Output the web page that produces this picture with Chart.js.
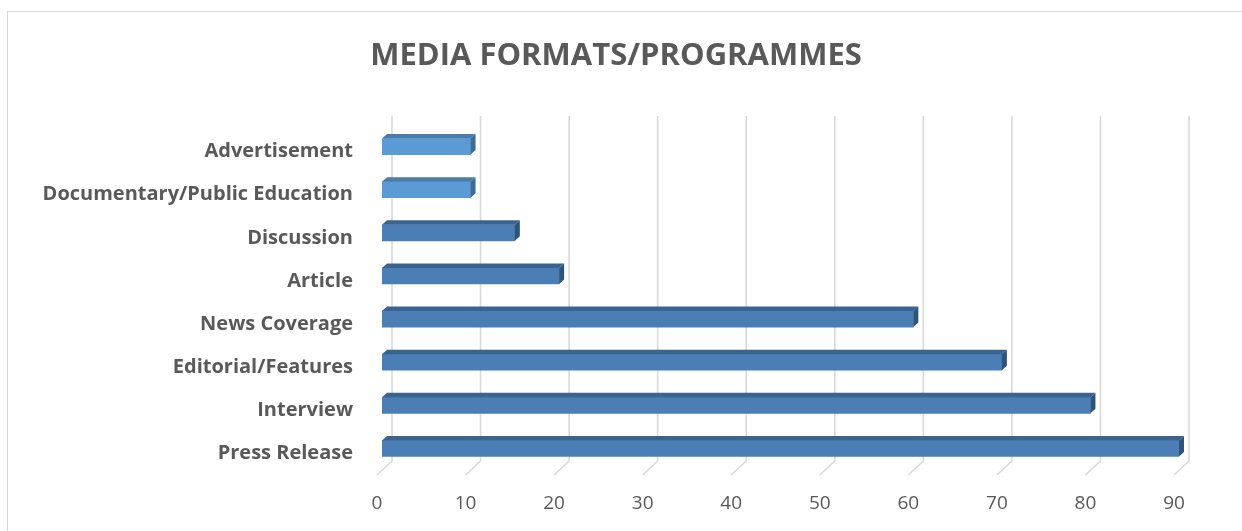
<!DOCTYPE html>
<html>
<head>
<meta charset="utf-8">
<title>Media formats / programmes</title>
<script src="https://cdn.jsdelivr.net/npm/chart.js@4.4.1/dist/chart.umd.min.js"></script>
<style>
  html, body { margin: 0; padding: 0; background: #fff; overflow: hidden; }
  #frame {
    position: absolute; left: 7px; top: 11px; width: 1300px; height: 600px;
    border: 1px solid #d9d9d9; box-sizing: border-box;
  }
  #wrap { position: absolute; left: 0; top: 0; width: 1242px; height: 531px; }
</style>
</head>
<body>
<div id="frame"></div>
<div id="wrap"><canvas id="bar"></canvas></div>
<script>
const TITLE = 'MEDIA FORMATS/PROGRAMMES';

// categories, top to bottom
const formats = [
  'Advertisement',
  'Documentary/Public Education',
  'Discussion',
  'Article',
  'News Coverage',
  'Editorial/Features',
  'Interview',
  'Press Release'
];
const counts = [10, 10, 15, 20, 60, 70, 80, 90];
const xTicks = [0, 10, 20, 30, 40, 50, 60, 70, 80, 90];

// two lighter bars at the top, the rest in the darker blue
const frontColors = ['#5b9bd5', '#5b9bd5', '#4a7eb4', '#4a7eb4', '#4a7eb4', '#4a7eb4', '#4a7eb4', '#4a7eb4'];
const topColors   = ['#4a7bab', '#4a7bab', '#3a6490', '#3a6490', '#3a6490', '#3a6490', '#3a6490', '#3a6490'];
const sideColors  = ['#3e6a96', '#3e6a96', '#2f5479', '#2f5479', '#2f5479', '#2f5479', '#2f5479', '#2f5479'];

const FLOOR_DX = 15, FLOOR_DY = 14;   // depth of the floor / back wall
const BAR_DX = 5, BAR_DY = 5;         // bars sit a third of the way in
const BAR_DEPTH_X = 5, BAR_DEPTH_Y = 4.5;

const textGrey = '#595959';

// back wall gridlines plus the slanted floor lines, drawn behind the bars
const wallPlugin = {
  id: 'wall',
  beforeDatasetsDraw(chart) {
    const { ctx, chartArea } = chart;
    const x = chart.scales.x;
    ctx.save();
    ctx.strokeStyle = '#d9d9d9';
    ctx.lineWidth = 1.6;
    xTicks.forEach(v => {
      const fx = x.getPixelForValue(v);
      const bx = fx + FLOOR_DX;
      ctx.beginPath();
      ctx.moveTo(bx, chartArea.top - FLOOR_DY);
      ctx.lineTo(bx, chartArea.bottom - FLOOR_DY);
      ctx.lineTo(fx, chartArea.bottom);
      ctx.stroke();
    });
    ctx.restore();
  }
};

// shifts the bars back a little and adds top and end faces
const depthPlugin = {
  id: 'depth',
  beforeDatasetDraw(chart) {
    chart.ctx.save();
    chart.ctx.translate(BAR_DX, -BAR_DY);
  },
  afterDatasetDraw(chart, args) {
    const ctx = chart.ctx;
    args.meta.data.forEach((bar, i) => {
      const p = bar.getProps(['x', 'y', 'base', 'height'], true);
      const top = p.y - p.height / 2;
      const bottom = p.y + p.height / 2;
      ctx.fillStyle = topColors[i];
      ctx.beginPath();
      ctx.moveTo(p.base, top);
      ctx.lineTo(p.base + BAR_DEPTH_X, top - BAR_DEPTH_Y);
      ctx.lineTo(p.x + BAR_DEPTH_X, top - BAR_DEPTH_Y);
      ctx.lineTo(p.x, top);
      ctx.closePath();
      ctx.fill();
      ctx.fillStyle = sideColors[i];
      ctx.beginPath();
      ctx.moveTo(p.x, top);
      ctx.lineTo(p.x + BAR_DEPTH_X, top - BAR_DEPTH_Y);
      ctx.lineTo(p.x + BAR_DEPTH_X, bottom - BAR_DEPTH_Y);
      ctx.lineTo(p.x, bottom);
      ctx.closePath();
      ctx.fill();
    });
    ctx.restore();
  }
};

const titlePlugin = {
  id: 'headline',
  afterDraw(chart) {
    const ctx = chart.ctx;
    ctx.save();
    ctx.font = 'bold 31px "Open Sans"';
    ctx.fillStyle = textGrey;
    ctx.textAlign = 'center';
    ctx.textBaseline = 'middle';
    ctx.fillText(TITLE, 616, 56);
    ctx.restore();
  }
};

new Chart(document.getElementById('bar'), {
  type: 'bar',
  data: {
    labels: formats,
    datasets: [{
      label: 'Media formats',
      data: counts,
      backgroundColor: frontColors,
      borderWidth: 0,
      barThickness: 16
    }]
  },
  options: {
    indexAxis: 'y',
    responsive: true,
    maintainAspectRatio: false,
    animation: false,
    layout: { padding: { top: 130, right: 68, bottom: 0, left: 0 } },
    plugins: {
      legend: { display: false },
      tooltip: { enabled: false },
      title: { display: false }
    },
    scales: {
      x: {
        min: 0,
        max: 90,
        afterBuildTicks(scale) { scale.ticks = xTicks.map(v => ({ value: v })); },
        ticks: {
          color: textGrey,
          font: { family: '"Open Sans"', size: 19 },
          padding: 17,
          maxRotation: 0
        },
        grid: { display: false, drawTicks: false },
        border: { display: false },
        afterFit(scale) { scale.height = 56; }
      },
      y: {
        ticks: {
          color: textGrey,
          font: { family: '"Open Sans"', size: 20, weight: 'bold' },
          padding: 24
        },
        grid: { display: false, drawTicks: false },
        border: { display: false },
        afterFit(scale) { scale.width = 377; }
      }
    }
  },
  plugins: [wallPlugin, depthPlugin, titlePlugin]
});
</script>
</body>
</html>
